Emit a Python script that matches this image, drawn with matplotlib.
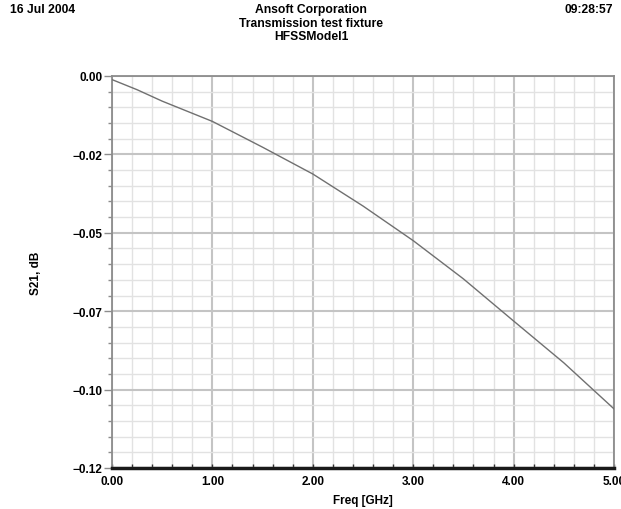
import numpy as np
import matplotlib
matplotlib.use("Agg")
import matplotlib.pyplot as plt
from matplotlib.ticker import MultipleLocator, FixedLocator, FixedFormatter

plt.rcParams['font.family'] = ['Liberation Sans', 'DejaVu Sans']

freq = [0.0, 0.25, 0.5, 1.0, 1.5, 2.0, 2.5, 3.0, 3.5, 4.0, 4.5, 5.0]
s21 = [-0.0011, -0.0042, -0.0077, -0.0139, -0.0218, -0.0300, -0.0398,
       -0.0504, -0.0621, -0.0750, -0.0878, -0.1019]

x_ticks = [0.0, 1.0, 2.0, 3.0, 4.0, 5.0]
x_labels = ["0.00", "1.00", "2.00", "3.00", "4.00", "5.00"]
y_ticks = [0.0, -0.024, -0.048, -0.072, -0.096, -0.12]
y_labels = ["0.00", "\u22120.02", "\u22120.05", "\u22120.07", "\u22120.10", "\u22120.12"]

fig = plt.figure(figsize=(6.21, 5.10), dpi=100)
ax = fig.add_axes([112/621, 1-469/510, (614-112)/621, (469-77)/510])

ax.plot(freq, s21, color="#707070", lw=1.0, zorder=3)

ax.set_xlim(0, 5)
ax.set_ylim(-0.12, 0)

ax.xaxis.set_major_locator(FixedLocator(x_ticks))
ax.xaxis.set_major_formatter(FixedFormatter(x_labels))
ax.xaxis.set_minor_locator(MultipleLocator(0.2))
ax.yaxis.set_major_locator(FixedLocator(y_ticks))
ax.yaxis.set_major_formatter(FixedFormatter(y_labels))
ax.yaxis.set_minor_locator(MultipleLocator(0.0048))

ax.grid(which="major", color="#c4c4c4", lw=1.5, zorder=0)
ax.grid(which="minor", color="#e2e2e2", lw=1.0, zorder=0)
ax.set_axisbelow(True)

for s in ["top", "right", "left"]:
    ax.spines[s].set_color("#8c8c8c")
    ax.spines[s].set_linewidth(1.3)
ax.spines["bottom"].set_color("#1a1a1a")
ax.spines["bottom"].set_linewidth(2.5)

ax.tick_params(axis="y", which="major", direction="out", length=6, width=1,
               color="#8c8c8c", labelsize=8.5, pad=1)
ax.tick_params(axis="y", which="minor", direction="out", length=3, width=1,
               color="#8c8c8c")
ax.tick_params(axis="x", which="both", direction="in", length=3, width=1,
               color="#333333", labelsize=8.5, pad=5)
for lab in ax.get_xticklabels() + ax.get_yticklabels():
    lab.set_fontweight("bold")

ax.set_xlabel("Freq [GHz]", fontsize=8.5, fontweight="bold", labelpad=5)
ax.set_ylabel("S21, dB", fontsize=8.5, fontweight="bold", labelpad=0)
ax.yaxis.set_label_coords(-0.14, 0.5)

fs = 8.7
fig.text(10/621, 1-10/510, "16 Jul 2004", fontsize=fs, fontweight="bold", va="center", ha="left")
fig.text(613/621, 1-10/510, "09:28:57", fontsize=fs, fontweight="bold", va="center", ha="right")
fig.text(311/621, 1-10/510, "Ansoft Corporation", fontsize=fs, fontweight="bold", va="center", ha="center")
fig.text(311/621, 1-24/510, "Transmission test fixture", fontsize=fs, fontweight="bold", va="center", ha="center")
fig.text(311/621, 1-37/510, "HFSSModel1", fontsize=fs, fontweight="bold", va="center", ha="center")

fig.savefig("out.png", dpi=100)
